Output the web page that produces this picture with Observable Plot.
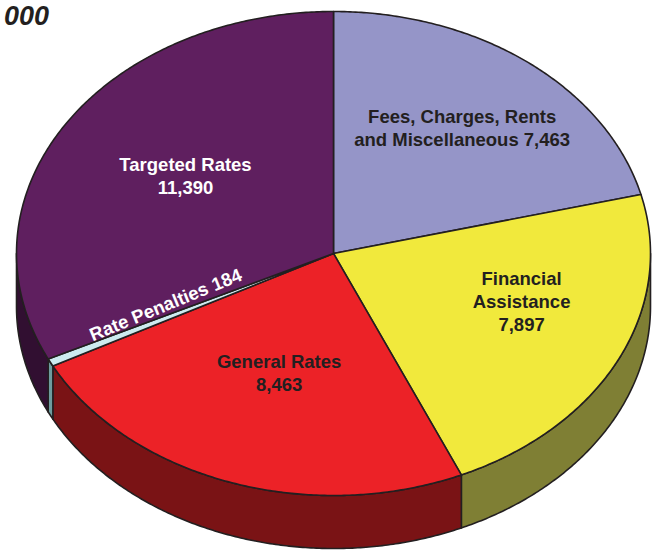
<!DOCTYPE html>
<html><head><meta charset="utf-8">
<script src="https://cdn.jsdelivr.net/npm/d3@7"></script>
<script src="https://cdn.jsdelivr.net/npm/@observablehq/plot@0.6"></script>
<style>
body{margin:0;background:#fff;}
#wrap{position:relative;width:656px;height:552px;overflow:hidden;}
#title{position:absolute;left:2px;top:1px;padding:0 2px;font:italic bold 27px/30px "Liberation Sans",Arial,sans-serif;color:#231f20;white-space:nowrap;z-index:2;}
#wrap svg{position:absolute;left:0;top:0;}
</style></head><body>
<div id="wrap"><div id="title">000</div></div>
<script>
// ---- data ----
const categories = ["Fees, Charges, Rents and Miscellaneous", "Financial Assistance", "General Rates", "Rate Penalties", "Targeted Rates"];
const values = [7463, 7897, 8463, 184, 11390];
const labels = ["Fees, Charges, Rents\nand Miscellaneous 7,463", "Financial\nAssistance\n7,897", "General Rates\n8,463", "Rate Penalties 184", "Targeted Rates\n11,390"];

// ---- styles ----
const topColors = ["#9595c8", "#f1e93c", "#ec2227", "#cdebef", "#5f1f5f"];
const sideColors = ["#55557a", "#7f7f34", "#7a1315", "#6f9c9e", "#310f31"];
const labelColors = ["#231f20", "#231f20", "#231f20", "#ffffff", "#ffffff"];
const labelRadius = [0.66, 0.624, 0.52, 0.57, 0.567];
const labelShiftDeg = [0, -8, 0, 5.4, 2.5];

// ---- layout ----
const W = 656, H = 552;
const cx = 333, cy = 253, rx = 317, ry = 242, depthPx = 53;
const depth = depthPx / ry;

const arcs = d3.pie().sort(null).startAngle(0).endAngle(2 * Math.PI)(values);
const pt = (a, dz = 0) => ({x: Math.sin(a), y: -Math.cos(a) + dz});
function arcPts(a0, a1, dz = 0) {
  const n = Math.max(2, Math.ceil(Math.abs(a1 - a0) / (Math.PI / 360)));
  return d3.range(n + 1).map(i => pt(a0 + (a1 - a0) * i / n, dz));
}

const marks = [];
// side walls (front half only)
arcs.forEach((a, i) => {
  const s = Math.max(a.startAngle, Math.PI / 2), e = Math.min(a.endAngle, 3 * Math.PI / 2);
  if (s < e) {
    const poly = [...arcPts(s, e), ...arcPts(e, s, depth)];
    poly.push(poly[0]);
    marks.push(Plot.line(poly, {x: "x", y: "y", fill: sideColors[i], stroke: "#231f20", strokeWidth: 1.6, strokeLinejoin: "round", curve: "linear"}));
  }
});
// top faces
arcs.forEach((a, i) => {
  const poly = [{x: 0, y: 0}, ...arcPts(a.startAngle, a.endAngle), {x: 0, y: 0}];
  marks.push(Plot.line(poly, {x: "x", y: "y", fill: topColors[i], stroke: "#231f20", strokeWidth: 1.6, strokeLinejoin: "round", curve: "linear"}));
});
// labels
arcs.forEach((a, i) => {
  const mid = (a.startAngle + a.endAngle) / 2 + labelShiftDeg[i] * Math.PI / 180;
  const p = pt(mid);
  let rotate = 0;
  if (categories[i] === "Rate Penalties") {
    const e = pt(a.endAngle);
    rotate = Math.atan2(e.y * ry, e.x * rx) * 180 / Math.PI - 180 - 2;
  }
  marks.push(Plot.text([labels[i]], {
    x: () => p.x * labelRadius[i], y: () => p.y * labelRadius[i], text: d => d,
    fill: labelColors[i], fontSize: 18.5, fontWeight: "bold", lineHeight: 1.24,
    fontFamily: "'Liberation Sans', Arial, sans-serif", rotate, textAnchor: "middle"
  }));
});

const chart = Plot.plot({
  width: W, height: H,
  margin: 0,
  x: {domain: [-cx / rx, (W - cx) / rx], range: [0, W], axis: null},
  y: {domain: [-cy / ry, (H - cy) / ry], range: [0, H], axis: null},
  style: {background: "transparent", overflow: "visible"},
  marks
});
document.getElementById("wrap").appendChild(chart);
</script>
</body></html>
